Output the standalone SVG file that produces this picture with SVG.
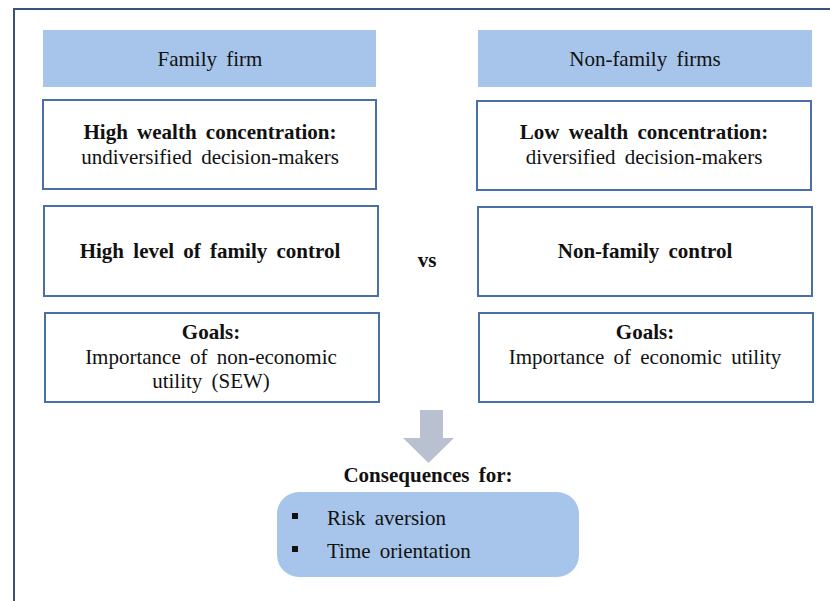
<svg xmlns="http://www.w3.org/2000/svg" width="830" height="601" viewBox="0 0 830 601">
  <style>
    text { font-family: "Liberation Serif", Tinos, "Times New Roman", "DejaVu Serif", serif; font-size: 21px; word-spacing: 4px; fill: #111; text-anchor: middle; }
    .b { font-weight: bold; }
    .head { fill: #A7C5EA; }
    .box { fill: #fff; stroke: #4A6EA8; stroke-width: 2; }
    .frame { fill: none; stroke: #3A5478; stroke-width: 2; }
  </style>
  <rect width="830" height="601" fill="#fff"/>
  <rect class="frame" x="14" y="9" width="830" height="610"/>

  <g id="family-header">
    <rect class="head" x="43" y="30" width="333" height="57"/>
    <text x="210" y="66">Family firm</text>
  </g>
  <g id="nonfamily-header">
    <rect class="head" x="478" y="30" width="334" height="57"/>
    <text x="645" y="66">Non-family firms</text>
  </g>

  <g id="family-wealth">
    <rect class="box" x="43" y="100" width="333" height="89"/>
    <text class="b" x="210" y="139">High wealth concentration:</text>
    <text x="210" y="164">undiversified decision-makers</text>
  </g>
  <g id="nonfamily-wealth">
    <rect class="box" x="477" y="101" width="334" height="89"/>
    <text class="b" x="644" y="139">Low wealth concentration:</text>
    <text x="644" y="164">diversified decision-makers</text>
  </g>

  <g id="family-control">
    <rect class="box" x="44" y="206" width="334" height="90"/>
    <text class="b" x="210" y="258">High level of family control</text>
  </g>
  <g id="vs">
    <text class="b" x="427" y="267">vs</text>
  </g>
  <g id="nonfamily-control">
    <rect class="box" x="478" y="207" width="334" height="89"/>
    <text class="b" x="645" y="258">Non-family control</text>
  </g>

  <g id="family-goals">
    <rect class="box" x="45" y="313" width="334" height="89"/>
    <text class="b" x="211" y="339">Goals:</text>
    <text x="211" y="364">Importance of non-economic</text>
    <text x="211" y="388">utility (SEW)</text>
  </g>
  <g id="nonfamily-goals">
    <rect class="box" x="479" y="313" width="334" height="89"/>
    <text class="b" x="645" y="339">Goals:</text>
    <text x="645" y="364">Importance of economic utility</text>
  </g>

  <g id="connectors">
    <polygon points="420,410 443,410 443,438 454,438 428.5,463 403,438 420,438" fill="#B9C0D0"/>
  </g>

  <g id="consequences">
    <text class="b" x="428" y="482">Consequences for:</text>
    <rect x="277" y="492" width="302" height="85" rx="22" ry="22" fill="#A7C5EA"/>
    <rect x="292" y="513" width="6" height="6" fill="#111"/>
    <text x="327" y="525" style="text-anchor:start">Risk aversion</text>
    <rect x="292" y="546" width="6" height="6" fill="#111"/>
    <text x="327" y="558" style="text-anchor:start">Time orientation</text>
  </g>
</svg>
